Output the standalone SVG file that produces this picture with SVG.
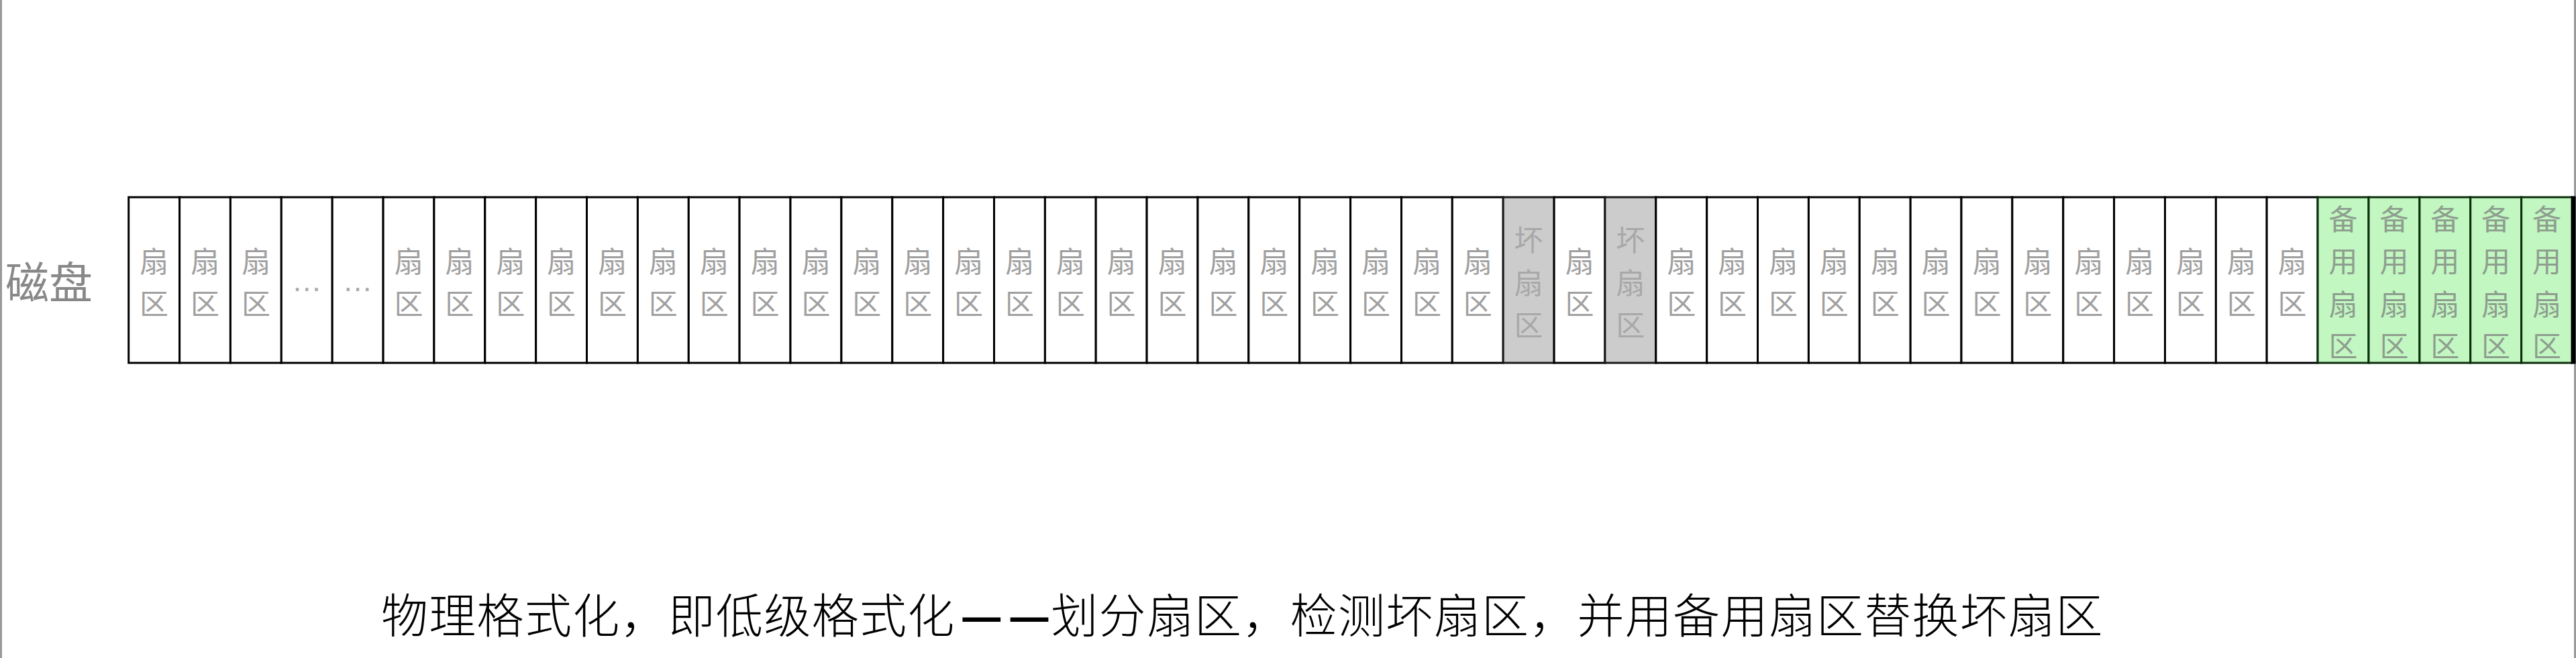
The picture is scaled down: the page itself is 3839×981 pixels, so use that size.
<svg xmlns="http://www.w3.org/2000/svg" width="3839" height="981" viewBox="0 0 3839 981">
<style>
.cell{fill:#ffffff;stroke:#000000;stroke-width:3}
.bad{fill:#cccccc;stroke:#1a1a1a;stroke-width:3}
.spare{fill:#c2f7c2;stroke:#0b2e0b;stroke-width:3}
.lbl{font-family:"Noto Sans CJK SC","Noto Sans CJK JP",sans-serif;font-size:43px;fill:#a0a0a0;text-anchor:middle;dominant-baseline:central}
.badt{fill:#a8a8a8}
.sparet{fill:#8e9e8e}
.dots{font-family:"Liberation Sans",sans-serif;font-size:45px;fill:#aaaaaa;text-anchor:middle}
.page{stroke:#999999;stroke-width:3}
</style>
<rect x="0" y="0" width="3839" height="981" fill="#ffffff"/>
<g id="page-edges">
<line class="page" x1="1.5" y1="0" x2="1.5" y2="981"/>
<line class="page" x1="3837.5" y1="0" x2="3837.5" y2="981"/>
</g>
<g id="disk-label">
<text x="8" y="417" font-family="Noto Sans CJK SC, sans-serif" font-size="65" fill="#888888" dominant-baseline="central">磁盘</text>
</g>
<g id="disk">
<g id="s0"><rect class="cell" x="191.7" y="294" width="75.9" height="247"/><text class="lbl"><tspan x="229.6" y="387">扇</tspan><tspan x="229.6" y="450">区</tspan></text></g>
<g id="s1"><rect class="cell" x="267.6" y="294" width="75.8" height="247"/><text class="lbl"><tspan x="305.5" y="387">扇</tspan><tspan x="305.5" y="450">区</tspan></text></g>
<g id="s2"><rect class="cell" x="343.4" y="294" width="75.9" height="247"/><text class="lbl"><tspan x="381.4" y="387">扇</tspan><tspan x="381.4" y="450">区</tspan></text></g>
<g id="e1"><rect class="cell" x="419.3" y="294" width="75.9" height="247"/><text class="dots" x="457.2" y="434">…</text></g>
<g id="e2"><rect class="cell" x="495.2" y="294" width="75.9" height="247"/><text class="dots" x="533.1" y="434">…</text></g>
<g id="s5"><rect class="cell" x="571.1" y="294" width="75.8" height="247"/><text class="lbl"><tspan x="609.0" y="387">扇</tspan><tspan x="609.0" y="450">区</tspan></text></g>
<g id="s6"><rect class="cell" x="646.9" y="294" width="75.9" height="247"/><text class="lbl"><tspan x="684.8" y="387">扇</tspan><tspan x="684.8" y="450">区</tspan></text></g>
<g id="s7"><rect class="cell" x="722.8" y="294" width="75.9" height="247"/><text class="lbl"><tspan x="760.7" y="387">扇</tspan><tspan x="760.7" y="450">区</tspan></text></g>
<g id="s8"><rect class="cell" x="798.7" y="294" width="75.8" height="247"/><text class="lbl"><tspan x="836.6" y="387">扇</tspan><tspan x="836.6" y="450">区</tspan></text></g>
<g id="s9"><rect class="cell" x="874.5" y="294" width="75.9" height="247"/><text class="lbl"><tspan x="912.4" y="387">扇</tspan><tspan x="912.4" y="450">区</tspan></text></g>
<g id="s10"><rect class="cell" x="950.4" y="294" width="75.9" height="247"/><text class="lbl"><tspan x="988.3" y="387">扇</tspan><tspan x="988.3" y="450">区</tspan></text></g>
<g id="s11"><rect class="cell" x="1026.3" y="294" width="75.8" height="247"/><text class="lbl"><tspan x="1064.2" y="387">扇</tspan><tspan x="1064.2" y="450">区</tspan></text></g>
<g id="s12"><rect class="cell" x="1102.1" y="294" width="75.9" height="247"/><text class="lbl"><tspan x="1140.0" y="387">扇</tspan><tspan x="1140.0" y="450">区</tspan></text></g>
<g id="s13"><rect class="cell" x="1178.0" y="294" width="75.9" height="247"/><text class="lbl"><tspan x="1215.9" y="387">扇</tspan><tspan x="1215.9" y="450">区</tspan></text></g>
<g id="s14"><rect class="cell" x="1253.9" y="294" width="75.9" height="247"/><text class="lbl"><tspan x="1291.8" y="387">扇</tspan><tspan x="1291.8" y="450">区</tspan></text></g>
<g id="s15"><rect class="cell" x="1329.8" y="294" width="75.8" height="247"/><text class="lbl"><tspan x="1367.7" y="387">扇</tspan><tspan x="1367.7" y="450">区</tspan></text></g>
<g id="s16"><rect class="cell" x="1405.6" y="294" width="75.9" height="247"/><text class="lbl"><tspan x="1443.5" y="387">扇</tspan><tspan x="1443.5" y="450">区</tspan></text></g>
<g id="s17"><rect class="cell" x="1481.5" y="294" width="75.9" height="247"/><text class="lbl"><tspan x="1519.4" y="387">扇</tspan><tspan x="1519.4" y="450">区</tspan></text></g>
<g id="s18"><rect class="cell" x="1557.4" y="294" width="75.8" height="247"/><text class="lbl"><tspan x="1595.3" y="387">扇</tspan><tspan x="1595.3" y="450">区</tspan></text></g>
<g id="s19"><rect class="cell" x="1633.2" y="294" width="75.9" height="247"/><text class="lbl"><tspan x="1671.1" y="387">扇</tspan><tspan x="1671.1" y="450">区</tspan></text></g>
<g id="s20"><rect class="cell" x="1709.1" y="294" width="75.9" height="247"/><text class="lbl"><tspan x="1747.0" y="387">扇</tspan><tspan x="1747.0" y="450">区</tspan></text></g>
<g id="s21"><rect class="cell" x="1785.0" y="294" width="75.8" height="247"/><text class="lbl"><tspan x="1822.9" y="387">扇</tspan><tspan x="1822.9" y="450">区</tspan></text></g>
<g id="s22"><rect class="cell" x="1860.8" y="294" width="75.9" height="247"/><text class="lbl"><tspan x="1898.7" y="387">扇</tspan><tspan x="1898.7" y="450">区</tspan></text></g>
<g id="s23"><rect class="cell" x="1936.7" y="294" width="75.9" height="247"/><text class="lbl"><tspan x="1974.6" y="387">扇</tspan><tspan x="1974.6" y="450">区</tspan></text></g>
<g id="s24"><rect class="cell" x="2012.6" y="294" width="75.9" height="247"/><text class="lbl"><tspan x="2050.5" y="387">扇</tspan><tspan x="2050.5" y="450">区</tspan></text></g>
<g id="s25"><rect class="cell" x="2088.5" y="294" width="75.8" height="247"/><text class="lbl"><tspan x="2126.4" y="387">扇</tspan><tspan x="2126.4" y="450">区</tspan></text></g>
<g id="s26"><rect class="cell" x="2164.3" y="294" width="75.9" height="247"/><text class="lbl"><tspan x="2202.2" y="387">扇</tspan><tspan x="2202.2" y="450">区</tspan></text></g>
<g id="bad1"><rect class="bad" x="2240.2" y="294" width="75.9" height="247"/><text class="lbl badt"><tspan x="2278.1" y="355">坏</tspan><tspan x="2278.1" y="419">扇</tspan><tspan x="2278.1" y="482">区</tspan></text></g>
<g id="s28"><rect class="cell" x="2316.1" y="294" width="75.8" height="247"/><text class="lbl"><tspan x="2354.0" y="387">扇</tspan><tspan x="2354.0" y="450">区</tspan></text></g>
<g id="bad2"><rect class="bad" x="2391.9" y="294" width="75.9" height="247"/><text class="lbl badt"><tspan x="2429.8" y="355">坏</tspan><tspan x="2429.8" y="419">扇</tspan><tspan x="2429.8" y="482">区</tspan></text></g>
<g id="s30"><rect class="cell" x="2467.8" y="294" width="75.9" height="247"/><text class="lbl"><tspan x="2505.7" y="387">扇</tspan><tspan x="2505.7" y="450">区</tspan></text></g>
<g id="s31"><rect class="cell" x="2543.7" y="294" width="75.8" height="247"/><text class="lbl"><tspan x="2581.6" y="387">扇</tspan><tspan x="2581.6" y="450">区</tspan></text></g>
<g id="s32"><rect class="cell" x="2619.5" y="294" width="75.9" height="247"/><text class="lbl"><tspan x="2657.4" y="387">扇</tspan><tspan x="2657.4" y="450">区</tspan></text></g>
<g id="s33"><rect class="cell" x="2695.4" y="294" width="75.9" height="247"/><text class="lbl"><tspan x="2733.3" y="387">扇</tspan><tspan x="2733.3" y="450">区</tspan></text></g>
<g id="s34"><rect class="cell" x="2771.3" y="294" width="75.9" height="247"/><text class="lbl"><tspan x="2809.2" y="387">扇</tspan><tspan x="2809.2" y="450">区</tspan></text></g>
<g id="s35"><rect class="cell" x="2847.2" y="294" width="75.8" height="247"/><text class="lbl"><tspan x="2885.1" y="387">扇</tspan><tspan x="2885.1" y="450">区</tspan></text></g>
<g id="s36"><rect class="cell" x="2923.0" y="294" width="75.9" height="247"/><text class="lbl"><tspan x="2960.9" y="387">扇</tspan><tspan x="2960.9" y="450">区</tspan></text></g>
<g id="s37"><rect class="cell" x="2998.9" y="294" width="75.9" height="247"/><text class="lbl"><tspan x="3036.8" y="387">扇</tspan><tspan x="3036.8" y="450">区</tspan></text></g>
<g id="s38"><rect class="cell" x="3074.8" y="294" width="75.8" height="247"/><text class="lbl"><tspan x="3112.7" y="387">扇</tspan><tspan x="3112.7" y="450">区</tspan></text></g>
<g id="s39"><rect class="cell" x="3150.6" y="294" width="75.9" height="247"/><text class="lbl"><tspan x="3188.5" y="387">扇</tspan><tspan x="3188.5" y="450">区</tspan></text></g>
<g id="s40"><rect class="cell" x="3226.5" y="294" width="75.9" height="247"/><text class="lbl"><tspan x="3264.4" y="387">扇</tspan><tspan x="3264.4" y="450">区</tspan></text></g>
<g id="s41"><rect class="cell" x="3302.4" y="294" width="75.8" height="247"/><text class="lbl"><tspan x="3340.3" y="387">扇</tspan><tspan x="3340.3" y="450">区</tspan></text></g>
<g id="s42"><rect class="cell" x="3378.2" y="294" width="75.9" height="247"/><text class="lbl"><tspan x="3416.1" y="387">扇</tspan><tspan x="3416.1" y="450">区</tspan></text></g>
<g id="spare1"><rect class="spare" x="3454.1" y="294" width="75.9" height="247"/><text class="lbl sparet"><tspan x="3492.0" y="324">备</tspan><tspan x="3492.0" y="387">用</tspan><tspan x="3492.0" y="451">扇</tspan><tspan x="3492.0" y="513">区</tspan></text></g>
<g id="spare2"><rect class="spare" x="3530.0" y="294" width="75.9" height="247"/><text class="lbl sparet"><tspan x="3567.9" y="324">备</tspan><tspan x="3567.9" y="387">用</tspan><tspan x="3567.9" y="451">扇</tspan><tspan x="3567.9" y="513">区</tspan></text></g>
<g id="spare3"><rect class="spare" x="3605.9" y="294" width="75.8" height="247"/><text class="lbl sparet"><tspan x="3643.8" y="324">备</tspan><tspan x="3643.8" y="387">用</tspan><tspan x="3643.8" y="451">扇</tspan><tspan x="3643.8" y="513">区</tspan></text></g>
<g id="spare4"><rect class="spare" x="3681.7" y="294" width="75.9" height="247"/><text class="lbl sparet"><tspan x="3719.6" y="324">备</tspan><tspan x="3719.6" y="387">用</tspan><tspan x="3719.6" y="451">扇</tspan><tspan x="3719.6" y="513">区</tspan></text></g>
<g id="spare5"><rect class="spare" x="3757.6" y="294" width="75.9" height="247"/><text class="lbl sparet"><tspan x="3795.5" y="324">备</tspan><tspan x="3795.5" y="387">用</tspan><tspan x="3795.5" y="451">扇</tspan><tspan x="3795.5" y="513">区</tspan></text></g>
<rect id="disk-right-edge" x="3831.5" y="292.5" width="7" height="250" fill="#000000"/>
</g>
<g id="connectors"></g>
<g id="caption">
<text y="913" font-family="Noto Sans CJK SC, sans-serif" font-weight="300" font-size="70" fill="#000000" dominant-baseline="central"><tspan x="568 639.3 710.6 781.9 853.2 924.5 995.8 1067.1 1138.4 1209.7 1281 1352.3">物理格式化，即低级格式化</tspan><tspan font-weight="700" x="1431 1502.3">——</tspan><tspan x="1566.2 1637.5 1708.8 1780.1 1851.4 1922.7 1994 2065.3 2136.6 2207.9 2279.2 2350.5 2421.8 2493.1 2564.4 2635.7 2707 2778.3 2849.6 2920.9 2992.2 3063.5">划分扇区，检测坏扇区，并用备用扇区替换坏扇区</tspan></text>
</g>
</svg>
